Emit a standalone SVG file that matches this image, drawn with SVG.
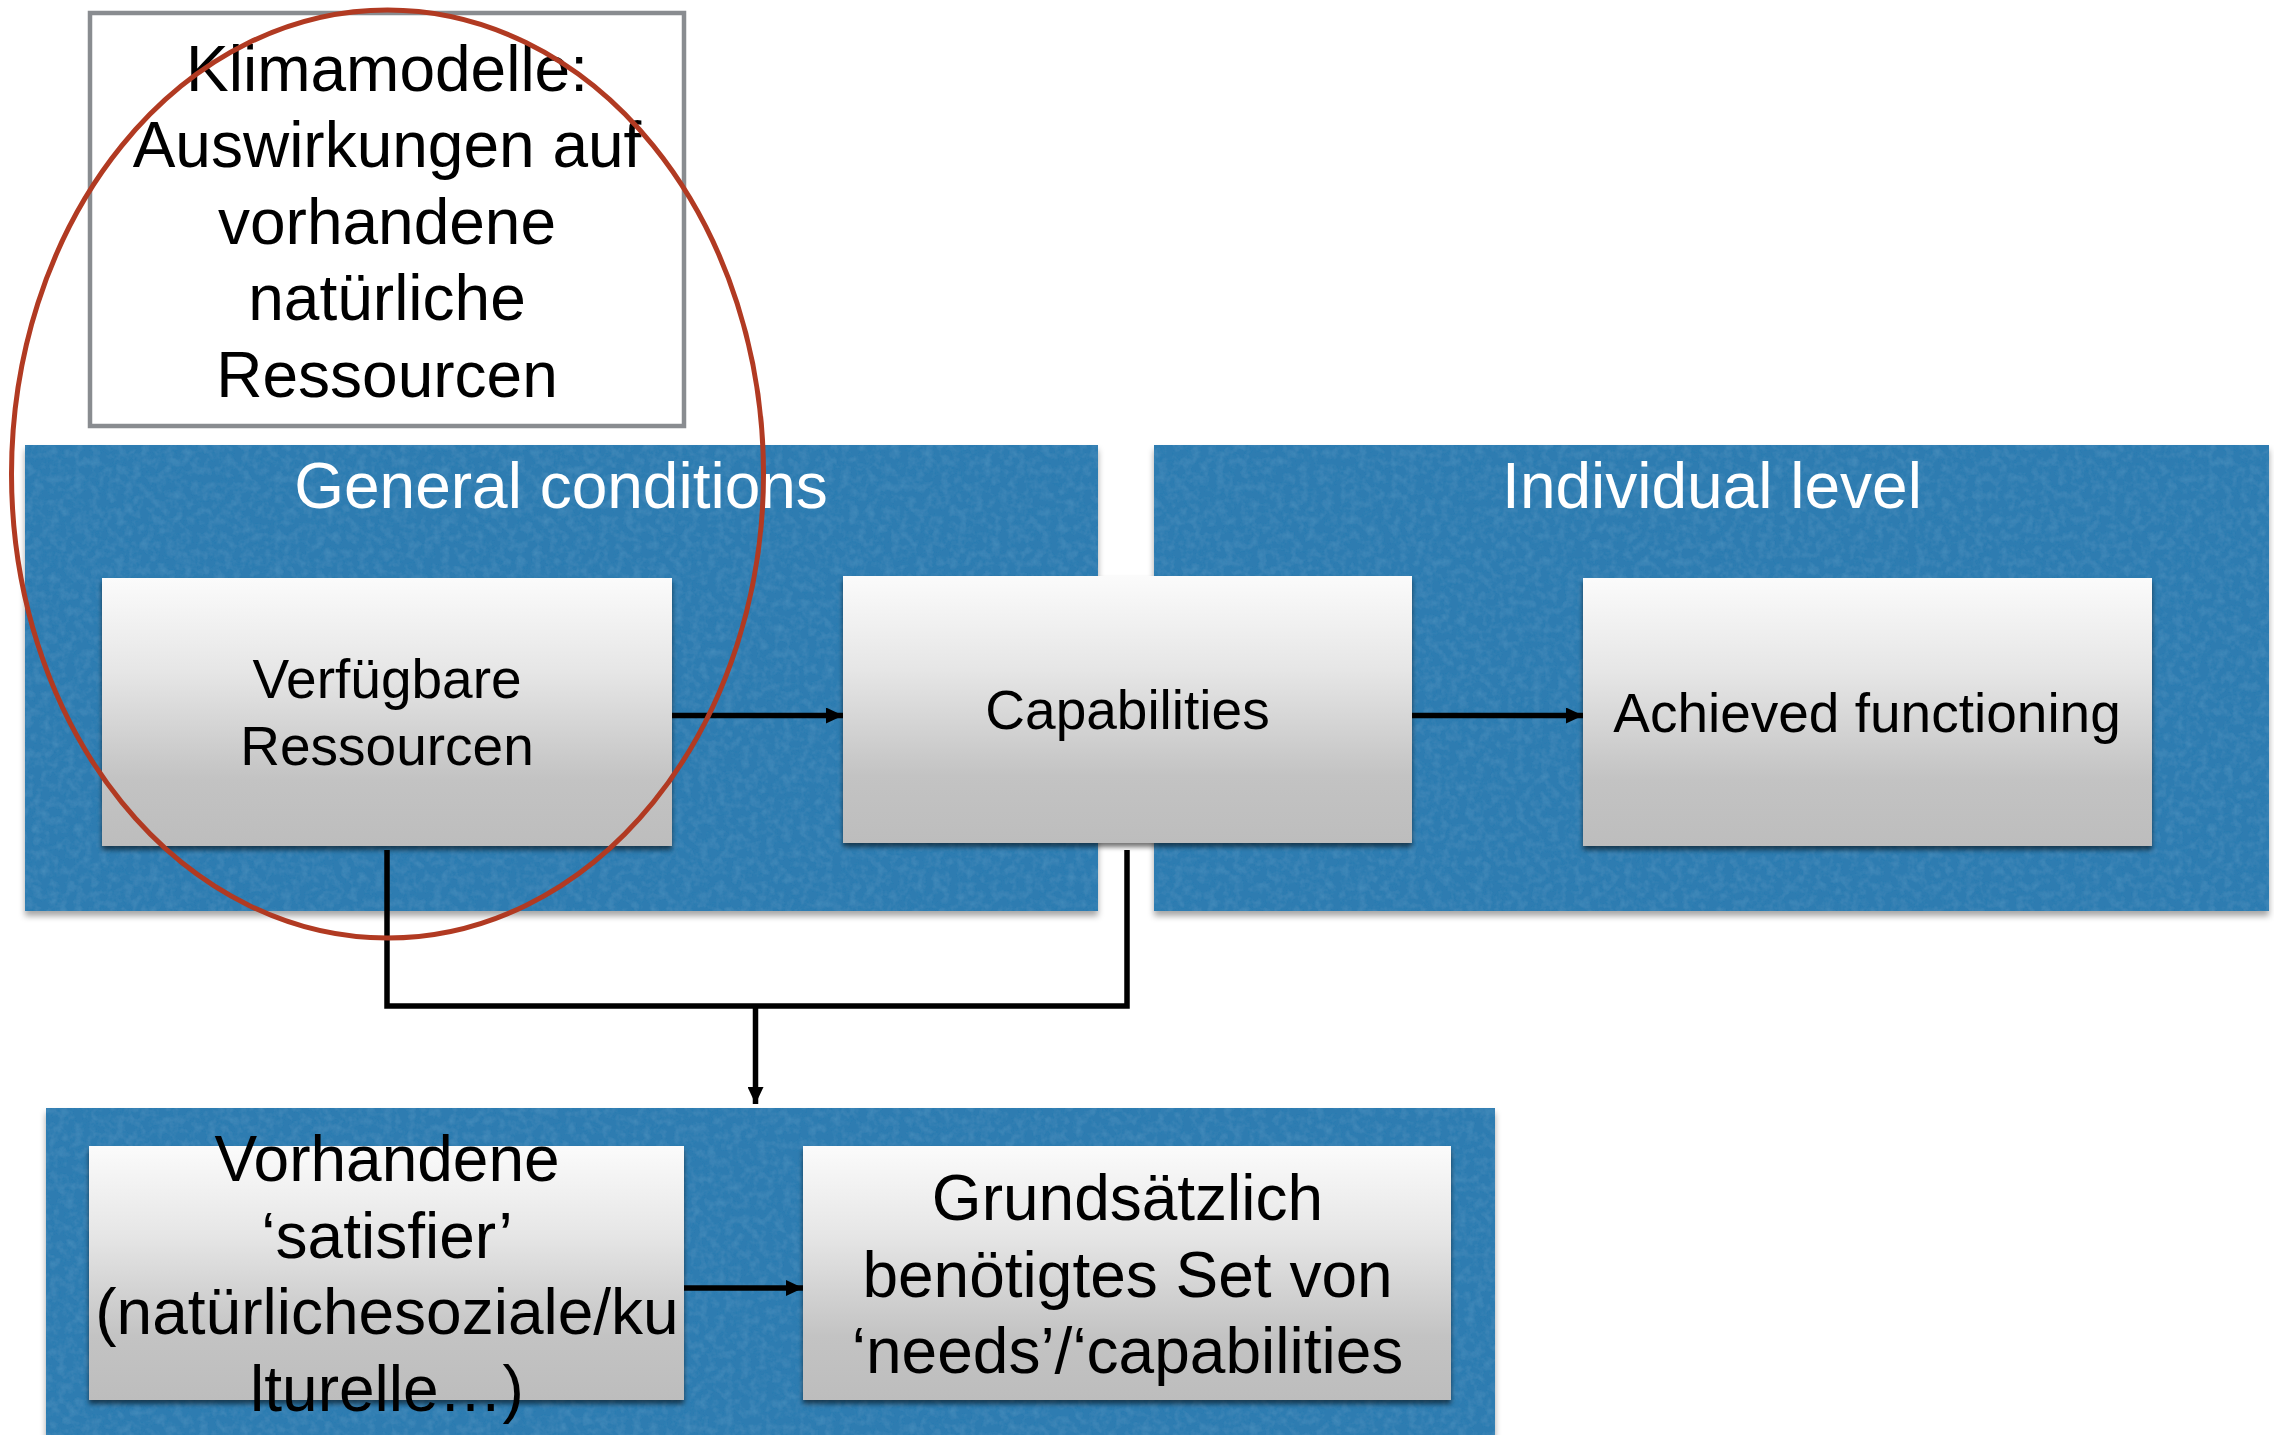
<svg xmlns="http://www.w3.org/2000/svg" width="2274" height="1435" viewBox="0 0 2274 1435">
<defs>
<style>
.panel{fill:#2d7bb1;}
.box{fill:url(#boxgrad);filter:url(#boxshadow);}
.t{font-family:"Liberation Sans",Arial,sans-serif;text-anchor:middle;fill:#000;}
.big{font-size:64px;}
.mid{font-size:55px;}
.hdr{font-family:"Liberation Sans",Arial,sans-serif;text-anchor:middle;fill:#fff;font-size:64px;}
.conn{fill:none;stroke:#000;stroke-width:5.5;}
</style>
<linearGradient id="boxgrad" x1="0" y1="0" x2="0" y2="1">
<stop offset="0" stop-color="#fbfbfb"/>
<stop offset="0.35" stop-color="#e6e6e6"/>
<stop offset="0.75" stop-color="#c3c3c3"/>
<stop offset="1" stop-color="#bdbdbd"/>
</linearGradient>
<filter id="paper" x="0" y="0" width="1" height="1">
<feTurbulence type="fractalNoise" baseFrequency="0.12" numOctaves="3" seed="3" result="noise"/>
<feColorMatrix in="noise" type="matrix" values="0 0 0 0 0.14  0 0 0 0 0.42  0 0 0 0 0.64  0.5 0 0 0 -0.2" result="tint"/>
<feComposite in="tint" in2="SourceGraphic" operator="in" result="t2"/>
<feMerge><feMergeNode in="SourceGraphic"/><feMergeNode in="t2"/></feMerge>
</filter>
<filter id="panelshadow" x="-5%" y="-5%" width="110%" height="115%">
<feDropShadow dx="0" dy="5" stdDeviation="3" flood-color="#000" flood-opacity="0.35"/>
</filter>
<filter id="boxshadow" x="-5%" y="-5%" width="110%" height="115%">
<feDropShadow dx="0" dy="4" stdDeviation="2.5" flood-color="#000" flood-opacity="0.55"/>
</filter>
<marker id="arr" viewBox="0 0 17 16" refX="17" refY="8" markerWidth="17" markerHeight="16" markerUnits="userSpaceOnUse" orient="auto">
<path d="M0,0 L17,8 L0,16 z" fill="#000"/>
</marker>
</defs>
<rect width="2274" height="1435" fill="#fff"/>

<g id="panel-general" filter="url(#panelshadow)">
<rect class="panel" x="25" y="445" width="1073" height="466" filter="url(#paper)"/>
</g>
<g id="panel-individual" filter="url(#panelshadow)">
<rect class="panel" x="1154" y="445" width="1115" height="466" filter="url(#paper)"/>
</g>
<g id="panel-bottom" filter="url(#panelshadow)">
<rect class="panel" x="46" y="1108" width="1449" height="340" filter="url(#paper)"/>
</g>
<text class="hdr" x="561" y="507.5">General conditions</text>
<text class="hdr" x="1712" y="507.5">Individual level</text>

<g id="node-verfuegbare">
<rect class="box" x="102" y="578" width="570" height="268"/>
<text class="t mid" x="387" y="698">Verfügbare</text>
<text class="t mid" x="387" y="765">Ressourcen</text>
</g>
<g id="node-capabilities">
<rect class="box" x="843" y="576" width="569" height="267"/>
<text class="t mid" x="1127.5" y="729">Capabilities</text>
</g>
<g id="node-achieved">
<rect class="box" x="1583" y="578" width="569" height="268"/>
<text class="t mid" x="1867" y="732">Achieved functioning</text>
</g>
<g id="node-vorhandene">
<rect class="box" x="89" y="1146" width="595" height="254"/>
<text class="t big" x="387" y="1181">Vorhandene</text>
<text class="t big" x="387" y="1257.5">‘satisfier’</text>
<text class="t big" x="387" y="1334">(natürlichesoziale/ku</text>
<text class="t big" x="387" y="1410.5">lturelle…)</text>
</g>
<g id="node-grundsaetzlich">
<rect class="box" x="803" y="1146" width="648" height="254"/>
<text class="t big" x="1127.5" y="1220">Grundsätzlich</text>
<text class="t big" x="1127.5" y="1296.5">benötigtes Set von</text>
<text class="t big" x="1127.5" y="1373">‘needs’/‘capabilities</text>
</g>

<g id="connectors">
<path class="conn" d="M672,715.5 H843" marker-end="url(#arr)"/>
<path class="conn" d="M1412,715.5 H1583" marker-end="url(#arr)"/>
<path class="conn" d="M684,1288 H803" marker-end="url(#arr)"/>
<path class="conn" d="M387,850 V1006 H1127 V850"/>
<path class="conn" d="M755.5,1006 V1104" marker-end="url(#arr)"/>
</g>

<g id="node-klimamodelle">
<rect x="90" y="13" width="594" height="413" fill="#fff" stroke="#898c90" stroke-width="4.5"/>
<text class="t big" x="387" y="90.5">Klimamodelle:</text>
<text class="t big" x="387" y="167">Auswirkungen auf</text>
<text class="t big" x="387" y="243.5">vorhandene</text>
<text class="t big" x="387" y="320">natürliche</text>
<text class="t big" x="387" y="396.5">Ressourcen</text>
</g>

<g id="highlight-ellipse">
<ellipse cx="387.5" cy="474" rx="376" ry="464" fill="none" stroke="#b13a22" stroke-width="5"/>
</g>
</svg>
